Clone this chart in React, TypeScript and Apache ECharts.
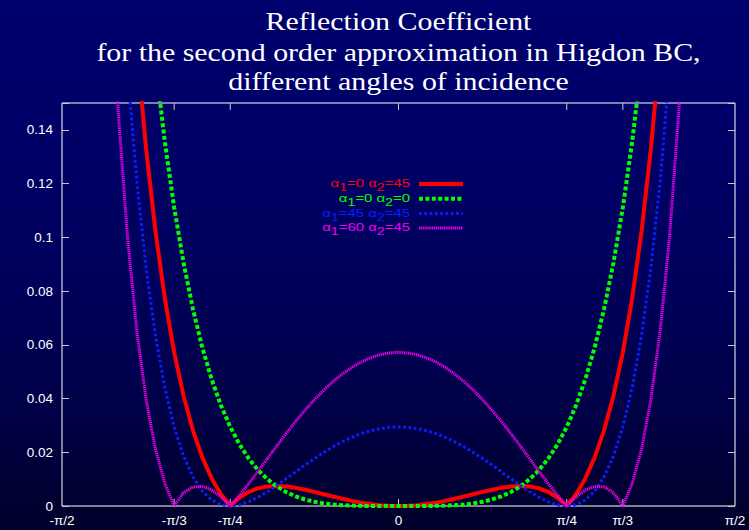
import React, { useEffect, useRef } from 'react';
import * as echarts from 'echarts';

// Angles of incidence (degrees), non-negative half; curves are symmetric in the angle.
const ANGLES = [0, 2.5, 5, 7.5, 10, 12.5, 15, 17.5, 20, 22.5, 25, 27.5, 30, 32.5, 35, 37.5, 40, 42.5, 45, 47.5, 50, 52.5, 55, 57.5, 60, 62.5, 65, 67.5, 70, 72.5, 75, 77.5];

// alpha1=0 alpha2=45
const RED = [0, 0.0000815, 0.000323, 0.000719, 0.001256, 0.001918, 0.002681, 0.003518, 0.004391, 0.005259, 0.006068, 0.006757, 0.007253, 0.007468, 0.007298, 0.006623, 0.0053, 0.003159, 0, 0.004413, 0.010361, 0.018176, 0.028255, 0.041072, 0.057191, 0.077297, 0.102204, 0.132909, 0.170617];
// alpha1=0 alpha2=0
const GREEN = [0, 0.0000002, 0.0000036, 0.0000185, 0.0000586, 0.000144, 0.0003, 0.000561, 0.000967, 0.001565, 0.002416, 0.003585, 0.005155, 0.007218, 0.009883, 0.013278, 0.017549, 0.02287, 0.029437, 0.037485, 0.047282, 0.059142, 0.073436, 0.090591, 0.111111, 0.135596, 0.164721, 0.199329];
// alpha1=45 alpha2=45
const BLUE = [0.029437, 0.029279, 0.028806, 0.028023, 0.02694, 0.025571, 0.023932, 0.022048, 0.019947, 0.017665, 0.015244, 0.012736, 0.010205, 0.007726, 0.005389, 0.003304, 0.001601, 0.000436, 0, 0.00052, 0.00227, 0.005586, 0.010871, 0.018621, 0.029437, 0.044063, 0.063414, 0.088622, 0.121098, 0.162611, 0.215391];
// alpha1=60 alpha2=45
const MAGENTA = [0.057191, 0.056964, 0.056286, 0.05516, 0.053592, 0.051591, 0.04917, 0.046344, 0.043134, 0.039566, 0.035671, 0.031489, 0.027068, 0.022468, 0.017761, 0.013037, 0.008407, 0.004006, 0, 0.003405, 0.005953, 0.007331, 0.007146, 0.004907, 0, 0.008349, 0.021121, 0.039567, 0.06529, 0.100368, 0.147509, 0.210277];

const X_TICKS = [-60, -45, 0, 45, 60];
const X_LABELS: Record<string, string> = {
  '-90': '-π/2', '-60': '-π/3', '-45': '-π/4', '0': '0', '45': 'π/4', '60': 'π/3', '90': 'π/2',
};
const Y_LABEL_MAX = 0.14;

const TITLE_LINES = [
  'Reflection Coefficient',
  'for the second order approximation in Higdon BC,',
  'different angles of incidence',
];

const SERIES_DEFS = [
  { name: 'α1=0 α2=45', a1: '0', a2: '45', values: RED, color: '#ff0000', width: 4, dash: null as number[] | null },
  { name: 'α1=0 α2=0', a1: '0', a2: '0', values: GREEN, color: '#00ff00', width: 4, dash: [4, 2.4] },
  { name: 'α1=45 α2=45', a1: '45', a2: '45', values: BLUE, color: '#0a1eff', width: 3, dash: [2.7, 2.6] },
  { name: 'α1=60 α2=45', a1: '60', a2: '45', values: MAGENTA, color: '#f000f0', width: 3, dash: [1.3, 0.8] },
];

function mirror(values: number[]) {
  const pts: number[][] = [];
  for (let i = values.length - 1; i > 0; i--) pts.push([-ANGLES[i], values[i]]);
  for (let i = 0; i < values.length; i++) pts.push([ANGLES[i], values[i]]);
  return pts;
}

export default function App() {
  const ref = useRef<HTMLDivElement>(null);

  useEffect(() => {
    if (!ref.current) return;
    const chart = echarts.init(ref.current, undefined, { renderer: 'svg' });

    const axisFont = { color: '#ffffff', fontFamily: 'Liberation Sans', fontSize: 13.5 };
    const tickStyle = { color: '#c8c8c8', width: 1 };

    const legendTop = 184;
    const legendStep = 14.7;
    const legendGraphics: any[] = [];
    SERIES_DEFS.forEach((s, i) => {
      const yc = legendTop + i * legendStep;
      legendGraphics.push({
        type: 'text',
        x: 410,
        y: yc - 6,
        scaleX: 1.42,
        style: {
          text: `{m|α}{s|1}{m|=${s.a1} α}{s|2}{m|=${s.a2}}`,
          fill: s.color,
          align: 'right',
          verticalAlign: 'top',
          rich: {
            m: { fill: s.color, fontFamily: 'Liberation Sans', fontSize: 10.5, lineHeight: 12, verticalAlign: 'top' },
            s: { fill: s.color, fontFamily: 'Liberation Sans', fontSize: 10, lineHeight: 11, verticalAlign: 'top', padding: [5, 0, 0, 0] },
          },
        },
      });
      legendGraphics.push({
        type: 'line',
        shape: { x1: 419, y1: yc, x2: 463, y2: yc },
        style: {
          stroke: s.color,
          lineWidth: s.width,
          lineDash: s.dash || null,
          lineCap: 'butt',
        },
      });
    });

    const titleY = [21, 52, 81];
    const titleGraphics = TITLE_LINES.map((t, i) => ({
      type: 'text',
      x: 398.5,
      y: titleY[i],
      scaleX: 1.15,
      style: {
        text: t,
        fill: '#ffffff',
        fontFamily: 'Liberation Serif',
        fontSize: 26,
        align: 'center',
        verticalAlign: 'middle',
      },
    }));

    const yAxisBase = {
      type: 'value',
      min: 0,
      max: 0.15,
      interval: 0.02,
      axisLine: { show: false, onZero: false },
      axisTick: { show: true, inside: true, length: 7, lineStyle: tickStyle },
      splitLine: { show: false },
    };

    const option: any = {
      animation: false,
      backgroundColor: 'transparent',
      grid: {
        left: 62, right: 14, top: 103, bottom: 24,
        show: true, borderColor: '#ffffff', borderWidth: 1, backgroundColor: 'transparent',
      },
      xAxis: {
        type: 'value',
        min: -90,
        max: 90,
        interval: 15,
        axisLine: { show: false, onZero: false },
        axisTick: { show: false },
        splitLine: { show: false },
        axisLabel: {
          ...axisFont,
          margin: 7,
          showMinLabel: true,
          showMaxLabel: true,
          formatter: (v: number) => X_LABELS[String(Math.round(v))] ?? '',
        },
      },
      yAxis: [
        {
          ...yAxisBase,
          position: 'left',
          axisLabel: {
            ...axisFont,
            margin: 9,
            formatter: (v: number) => (v > Y_LABEL_MAX + 0.001 ? '' : String(Math.round(v * 100) / 100)),
          },
        },
        {
          ...yAxisBase,
          position: 'right',
          axisLabel: { show: false },
        },
      ],
      series: [
        ...SERIES_DEFS.map((s) => ({
          type: 'line',
          name: s.name,
          data: mirror(s.values),
          showSymbol: false,
          symbol: 'none',
          smooth: false,
          clip: true,
          itemStyle: { color: s.color },
          lineStyle: {
            color: s.color,
            width: s.width,
            type: s.dash ? s.dash : 'solid',
            cap: 'butt',
          },
        })),
        {
          type: 'custom',
          name: 'xticks',
          silent: true,
          clip: false,
          data: X_TICKS.map((v) => [v, 0]),
          renderItem: (_params: any, api: any) => {
            const v = api.value(0);
            const b = api.coord([v, 0]);
            const t = api.coord([v, 0.15]);
            return {
              type: 'group',
              children: [
                { type: 'line', shape: { x1: b[0], y1: b[1], x2: b[0], y2: b[1] - 7 }, style: { stroke: '#c8c8c8', lineWidth: 1 } },
                { type: 'line', shape: { x1: t[0], y1: t[1], x2: t[0], y2: t[1] + 7 }, style: { stroke: '#c8c8c8', lineWidth: 1 } },
              ],
            };
          },
        },
      ],
      graphic: [...titleGraphics, ...legendGraphics],
    };

    chart.setOption(option);
    return () => chart.dispose();
  }, []);

  return (
    <div
      style={{
        position: 'absolute',
        left: 0,
        top: 0,
        width: 749,
        height: 530,
        background: 'linear-gradient(to bottom, #00006e 0%, #000066 30%, #00005a 55%, #000046 78%, #00002a 100%)',
      }}
    >
      <div ref={ref} style={{ width: 749, height: 530 }} />
    </div>
  );
}
